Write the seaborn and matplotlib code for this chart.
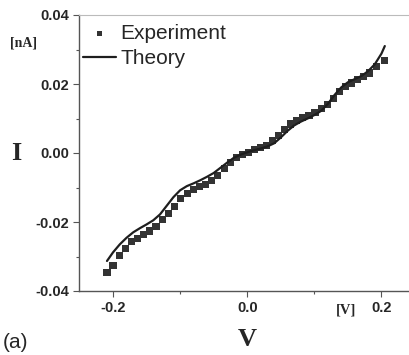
import numpy as np
import pandas as pd
import seaborn as sns
import matplotlib.pyplot as plt
from matplotlib.ticker import MultipleLocator, FormatStrFormatter

# experiment points
v_exp = [-0.209, -0.200, -0.191, -0.182, -0.173, -0.163, -0.154, -0.145, -0.136, -0.126,
         -0.117, -0.108, -0.099, -0.089, -0.080, -0.071, -0.062, -0.053, -0.044, -0.034,
         -0.025, -0.016, -0.007, 0.002, 0.011, 0.020, 0.029, 0.038, 0.047, 0.056,
         0.065, 0.074, 0.083, 0.092, 0.101, 0.110, 0.119, 0.128, 0.137, 0.146,
         0.155, 0.164, 0.173, 0.182, 0.192, 0.204]
i_exp = [-0.0347, -0.0325, -0.0297, -0.0276, -0.0257, -0.0247, -0.0235, -0.0226, -0.0214, -0.0194,
         -0.0175, -0.0154, -0.0133, -0.0117, -0.0107, -0.0098, -0.0091, -0.0080, -0.0065, -0.0046,
         -0.0028, -0.0012, -0.0004, 0.0002, 0.0011, 0.0015, 0.0021, 0.0035, 0.0050, 0.0068,
         0.0084, 0.0095, 0.0103, 0.0109, 0.0117, 0.0128, 0.0140, 0.0158, 0.0178, 0.0193,
         0.0203, 0.0213, 0.0221, 0.0232, 0.0250, 0.0268]

# theory curve
v_th = [-0.209, -0.200, -0.190, -0.180, -0.170, -0.160, -0.150, -0.140, -0.130, -0.120,
        -0.110, -0.100, -0.090, -0.080, -0.070, -0.060, -0.050, -0.040, -0.030, -0.020,
        -0.010, 0.000, 0.010, 0.020, 0.030, 0.040, 0.050, 0.060, 0.070, 0.080,
        0.090, 0.100, 0.110, 0.120, 0.130, 0.140, 0.150, 0.160, 0.170, 0.180,
        0.190, 0.200, 0.205]
i_th = [-0.0313, -0.0288, -0.0265, -0.0246, -0.0230, -0.0218, -0.0207, -0.0195, -0.0178, -0.0153,
        -0.0128, -0.0108, -0.0096, -0.0088, -0.0079, -0.0069, -0.0058, -0.0043, -0.0028, -0.0014,
        -0.0005, 0.0002, 0.0008, 0.0013, 0.0019, 0.0028, 0.0045, 0.0064, 0.0080, 0.0091,
        0.0100, 0.0110, 0.0122, 0.0142, 0.0168, 0.0190, 0.0205, 0.0214, 0.0223, 0.0237,
        0.0257, 0.0288, 0.0310]

exp_df = pd.DataFrame({'V': v_exp, 'I': i_exp})
th_df = pd.DataFrame({'V': v_th, 'I': i_th})

sns.set_style("white")
plt.rcParams['font.family'] = ['Liberation Sans', 'DejaVu Sans']

fig = plt.figure(figsize=(4.10, 3.55), dpi=100)
ax = fig.add_axes([79/410, 64/355, 336/410, 276/355])

sns.lineplot(data=th_df, x='V', y='I', ax=ax, color='#1e1e1e', linewidth=1.6,
             label='Theory', sort=False)
sns.scatterplot(data=exp_df, x='V', y='I', ax=ax, marker='s', s=26, color='#333333',
                edgecolor='none', label='Experiment')

ax.set_xlim(-0.2507, 0.25)
ax.set_ylim(-0.04, 0.04)
ax.xaxis.set_major_locator(MultipleLocator(0.2))
ax.xaxis.set_minor_locator(MultipleLocator(0.1))
ax.yaxis.set_major_locator(MultipleLocator(0.02))
ax.yaxis.set_minor_locator(MultipleLocator(0.01))
ax.xaxis.set_major_formatter(FormatStrFormatter('%.1f'))
ax.yaxis.set_major_formatter(FormatStrFormatter('%.2f'))
ax.tick_params(which='major', direction='out', length=4, width=0.8, color='#555555',
               labelsize=10.5, pad=3, bottom=True, left=True)
ax.tick_params(which='minor', direction='out', length=2.5, width=0.8, color='#555555',
               bottom=True, left=True)
for lab in ax.get_xticklabels() + ax.get_yticklabels():
    lab.set_fontweight('bold')
ax.set_xlabel('')
ax.set_ylabel('')
for side in ['left', 'bottom']:
    ax.spines[side].set_color('#555555')
    ax.spines[side].set_linewidth(1.0)
ax.spines['top'].set_color('#bbbbbb')
ax.spines['right'].set_visible(False)

# legend, experiment first
handles, labels = ax.get_legend_handles_labels()
ax.legend([handles[1], handles[0]], [labels[1], labels[0]], loc='upper left',
          bbox_to_anchor=(83/410, 1 - 24/355), bbox_transform=fig.transFigure,
          frameon=False, fontsize=15, handlelength=1.6, handletextpad=0.2,
          labelspacing=0.3, borderpad=0, borderaxespad=0, markerscale=0.65)

# axis texts
fig.text(24/410, 1 - 43/355, '[nA]', family='Liberation Serif', fontweight='bold',
         fontsize=10, ha='center', va='center')
fig.text(16/410, 1 - 153/355, 'I', family='Liberation Serif', fontweight='bold',
         fontsize=19, ha='center', va='center')
fig.text(247/410, 1 - 340/355, 'V', family='Liberation Serif', fontweight='bold',
         fontsize=19, ha='center', va='center')
fig.text(346/410, 1 - 310/355, '[V]', family='Liberation Serif', fontweight='bold',
         fontsize=10.5, ha='center', va='center')
fig.text(3/410, 1 - 343/355, '(a)', fontsize=15, ha='left', va='center')

fig.savefig('out.png', dpi=100)
